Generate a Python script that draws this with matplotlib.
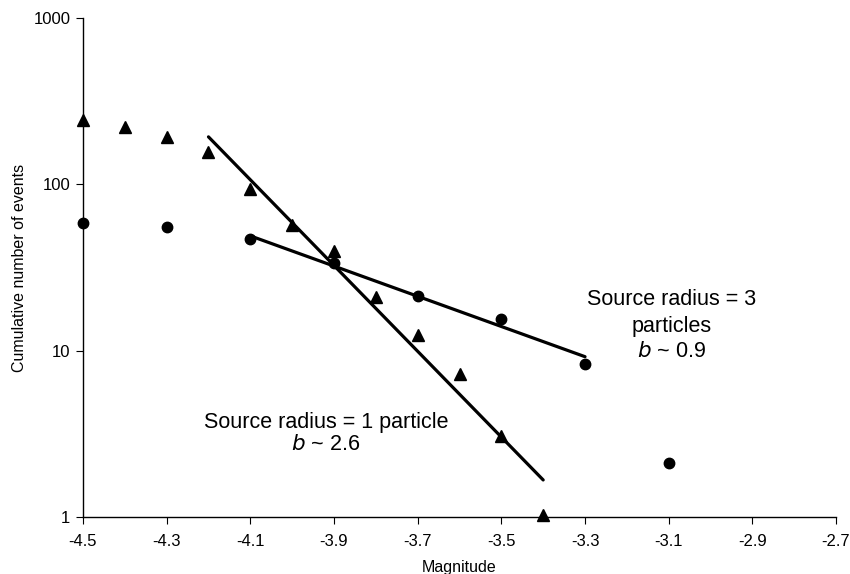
import matplotlib
matplotlib.use("Agg")
import matplotlib.pyplot as plt
import numpy as np

plt.rcParams['font.family'] = ['Liberation Sans', 'DejaVu Sans']

# radius = 1 particle (triangles)
tri_mag = [-4.5, -4.4, -4.3, -4.2, -4.1, -4.0, -3.9, -3.8, -3.7, -3.6, -3.5, -3.4]
tri_n = [244, 221, 193, 157, 94, 57, 40, 21, 12.4, 7.2, 3.07, 1.03]

# radius = 3 particles (circles)
dot_mag = [-4.5, -4.3, -4.1, -3.9, -3.7, -3.5, -3.3, -3.1]
dot_n = [58.6, 55.5, 47, 33.7, 21.3, 15.5, 8.3, 2.1]

# fitted lines, end points
fit1_mag = [-4.2, -3.4]
fit1_n = [193, 1.67]
fit3_mag = [-4.1, -3.3]
fit3_n = [49, 9.2]

xticks = [-4.5, -4.3, -4.1, -3.9, -3.7, -3.5, -3.3, -3.1, -2.9, -2.7]

fig = plt.figure(figsize=(8.5, 5.74), dpi=100)
ax = fig.add_axes([0.0976, 0.0993, 0.886, 0.8693])

ax.plot(fit1_mag, fit1_n, color='black', lw=2.3, solid_capstyle='round')
ax.plot(fit3_mag, fit3_n, color='black', lw=2.3, solid_capstyle='round')
ax.plot(tri_mag, tri_n, '^', color='black', ms=9, clip_on=False)
ax.plot(dot_mag, dot_n, 'o', color='black', ms=7.5, clip_on=False)

ax.set_yscale('log')
ax.set_ylim(1, 1000)
ax.set_xlim(-4.5, -2.7)
ax.set_xticks(xticks)
ax.set_xticklabels(['%.1f' % v for v in xticks])
ax.set_yticks([1, 10, 100, 1000])
ax.set_yticklabels(['1', '10', '100', '1000'])
ax.yaxis.set_minor_locator(matplotlib.ticker.NullLocator())
ax.tick_params(axis='both', labelsize=12, length=5, width=0.8, direction='out')
ax.tick_params(axis='x', pad=7)
ax.tick_params(axis='y', pad=4)

for s in ['top', 'right']:
    ax.spines[s].set_visible(False)
ax.spines['left'].set_linewidth(1.0)
ax.spines['bottom'].set_linewidth(1.0)

ax.set_xlabel('Magnitude', fontsize=11.5, labelpad=8)
ax.set_ylabel('Cumulative number of events', fontsize=11.5, labelpad=4.5)

fs = 15.5
ax.text(-3.094, 20.2, 'Source radius = 3', fontsize=fs, ha='center', va='center')
ax.text(-3.094, 13.9, 'particles', fontsize=fs, ha='center', va='center')
ax.text(-3.094, 9.82, r'$\it{b}$ ~ 0.9', fontsize=fs, ha='center', va='center')
ax.text(-3.919, 3.68, 'Source radius = 1 particle', fontsize=fs, ha='center', va='center')
ax.text(-3.919, 2.71, r'$\it{b}$ ~ 2.6', fontsize=fs, ha='center', va='center')

fig.savefig('out.png', dpi=100)
